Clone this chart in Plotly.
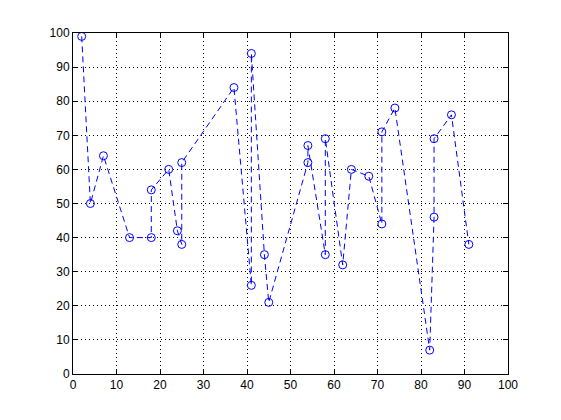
import plotly.graph_objects as go

# point data, in drawing order
x_vals = [2, 4, 7, 13, 18, 18, 22, 24, 25, 25, 37, 41, 41, 44, 45,
          54, 54, 58, 58, 62, 64, 68, 71, 71, 74, 82, 83, 83, 87, 91]
y_vals = [99, 50, 64, 40, 40, 54, 60, 42, 38, 62, 84, 26, 94, 35, 21,
          62, 67, 35, 69, 32, 60, 58, 44, 71, 78, 7, 46, 69, 76, 38]

tick_vals = list(range(0, 101, 10))

fig = go.Figure()

fig.add_trace(go.Scatter(
    x=x_vals,
    y=y_vals,
    mode='lines+markers',
    line=dict(color='rgb(0,0,255)', width=1, dash='6px,4px'),
    marker=dict(symbol='circle-open', size=8, color='rgb(0,0,255)',
                line=dict(width=1, color='rgb(0,0,255)')),
    showlegend=False,
))

axis_style = dict(
    range=[0, 100],
    tickvals=tick_vals,
    showline=True,
    linecolor='black',
    linewidth=1,
    mirror='ticks',
    ticks='inside',
    ticklen=5,
    tickcolor='black',
    showgrid=True,
    gridcolor='black',
    gridwidth=1,
    griddash='1px,3px',
    zeroline=False,
    tickfont=dict(family='Liberation Sans, Arial, sans-serif', size=12, color='black'),
)

fig.update_xaxes(**axis_style)
fig.update_yaxes(**axis_style)

# the page body adds an 8px offset, so margins are trimmed to match
fig.update_layout(
    width=561,
    height=420,
    margin=dict(l=65, r=61, t=25, b=54),
    paper_bgcolor='white',
    plot_bgcolor='white',
)

fig.write_html("out.html")
